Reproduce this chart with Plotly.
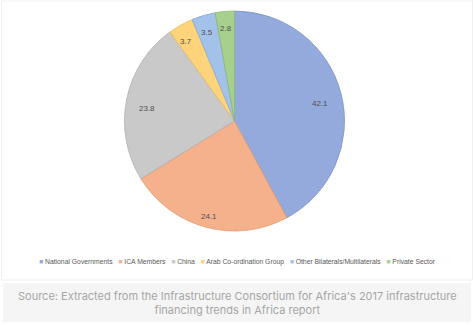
import math
import plotly.graph_objects as go

categories = ["National Governments", "ICA Members", "China", "Arab Co-ordination Group",
              "Other Bilaterals/Multilaterals", "Private Sector"]
values = [42.1, 24.1, 23.8, 3.7, 3.5, 2.8]
colors = ["#94a9dc", "#f5b08c", "#c9c9c9", "#fdd47c", "#a3c2ea", "#a7d08f"]
edges = ["#7d93c8", "#e09a74", "#b0b0b0", "#e8bd5e", "#88a8d4", "#8bb874"]

W, H = 474, 325
cx, cy, R = 234.5, 121.0, 110.0   # pie centre / radius in px

fig = go.Figure()
fig.add_trace(go.Pie(
    labels=categories, values=values, sort=False, direction="clockwise", rotation=0,
    marker=dict(colors=colors, line=dict(color=edges, width=0.8)),
    textinfo="none", hoverinfo="label+value", showlegend=False,
    domain=dict(x=[(cx - R) / W, (cx + R) / W], y=[1 - (cy + R) / H, 1 - (cy - R) / H]),
))

# data labels near the outer edge ("inside end")
total = sum(values)
cum = 0.0
anns = []
for v in values:
    mid = (cum + v / 2) / total * 2 * math.pi
    cum += v
    r = 0.9 * R
    px = cx + r * math.sin(mid)
    py = cy - r * math.cos(mid)
    anns.append(dict(x=px / W, y=1 - py / H, xref="paper", yref="paper", text=f"{v}",
                     showarrow=False, font=dict(size=8, color="#505050",
                                                family="Liberation Sans, Arial")))

# legend as one line of text
leg = "   ".join(f"<span style='color:{c}'>■</span> {n}" for c, n in zip(colors, categories))
anns.append(dict(x=0.5, y=1 - 262 / H, xref="paper", yref="paper", text=leg, showarrow=False,
                 xanchor="center", yanchor="middle",
                 font=dict(size=6.8, color="#595959", family="Liberation Sans, Arial")))

anns.append(dict(x=0.5, y=1 - 303 / H, xref="paper", yref="paper",
                 text="Source: Extracted from the Infrastructure Consortium for Africa's 2017 infrastructure<br>financing trends in Africa report",
                 showarrow=False, xanchor="center", yanchor="middle",
                 font=dict(size=11, color="#a6a6a6", family="Inter, Open Sans"),
                 ))

shapes = [
    dict(type="rect", xref="paper", yref="paper", x0=3 / W, x1=471 / W, y0=1 - 322 / H, y1=1 - 283 / H,
         fillcolor="#f5f5f5", line=dict(width=0), layer="below"),
    dict(type="rect", xref="paper", yref="paper", x0=1.5 / W, x1=472.5 / W, y0=1 - 280 / H, y1=1 - 1 / H,
         fillcolor="rgba(0,0,0,0)", line=dict(width=1, color="#f0f0f0"), layer="below"),
]

fig.update_layout(width=W, height=H, margin=dict(l=0, r=0, t=0, b=0),
                  paper_bgcolor="white", plot_bgcolor="white",
                  annotations=anns, shapes=shapes)
fig.write_html("out.html")
